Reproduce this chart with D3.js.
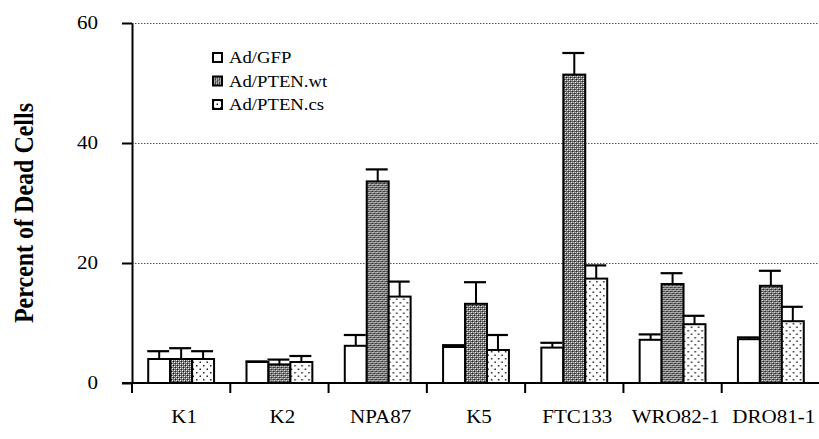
<!DOCTYPE html>
<html>
<head>
<meta charset="utf-8">
<script src="https://cdn.jsdelivr.net/npm/d3@7"></script>
<style>
  html, body { margin: 0; padding: 0; background: #fff; }
  svg { display: block; }
</style>
</head>
<body>
<svg id="chart" width="819" height="439"></svg>
<script>
// Cell lines and treatment groups
const categories = ["K1", "K2", "NPA87", "K5", "FTC133", "WRO82-1", "DRO81-1"];
const seriesNames = ["Ad/GFP", "Ad/PTEN.wt", "Ad/PTEN.cs"];

// Mean percent of dead cells and upper error (SD) per series
const gfpValues = [4.0, 3.5, 6.2, 6.0, 5.9, 7.2, 7.3];
const gfpErrors = [1.3, 0.1, 1.8, 0.3, 0.8, 0.9, 0.3];
const wtValues  = [4.0, 3.1, 33.6, 13.2, 51.4, 16.5, 16.2];
const wtErrors  = [1.8, 0.8, 2.0, 3.6, 3.6, 1.8, 2.5];
const csValues  = [4.0, 3.5, 14.4, 5.5, 17.4, 9.8, 10.3];
const csErrors  = [1.3, 1.0, 2.5, 2.5, 2.2, 1.4, 2.4];

const yTicks = [0, 20, 40, 60];
const yLabel = "Percent of Dead Cells";

const valueSets = [gfpValues, wtValues, csValues];
const errorSets = [gfpErrors, wtErrors, csErrors];
const fills = ["#fff", "url(#hatch)", "url(#dots)"];

const SERIF = '"Liberation Serif", "Times New Roman", Times, serif';
const STRETCH = 1.17; // wide typesetting of the labels

const svg = d3.select("#chart");
const W = 819, H = 439;
const plotLeft = 132, plotRight = 820, plotTop = 23, plotBottom = 383;

// Patterns for the bar fills
const defs = svg.append("defs");
const hatch = defs.append("pattern").attr("id", "hatch")
  .attr("patternUnits", "userSpaceOnUse").attr("width", 4).attr("height", 4);
hatch.append("rect").attr("width", 4).attr("height", 4).attr("fill", "#6c6c6c");
[[0, 0, "#fff"], [2, 2, "#fff"], [2, 0, "#c8c8c8"], [0, 2, "#c8c8c8"], [1, 1, "#151515"], [3, 3, "#151515"]]
  .forEach(([px, py, c]) => hatch.append("rect").attr("x", px).attr("y", py)
    .attr("width", 1).attr("height", 1).attr("fill", c));

const dots = defs.append("pattern").attr("id", "dots")
  .attr("patternUnits", "userSpaceOnUse").attr("width", 7).attr("height", 7);
dots.append("rect").attr("width", 7).attr("height", 7).attr("fill", "#fff");
dots.append("rect").attr("x", 1).attr("y", 1).attr("width", 1.5).attr("height", 1.5).attr("fill", "#222");
dots.append("rect").attr("x", 4.5).attr("y", 4.5).attr("width", 1.5).attr("height", 1.5).attr("fill", "#222");

// Scales
const x = d3.scaleBand().domain(categories).range([plotLeft, plotRight]).padding(0);
const inner = d3.scaleBand().domain(seriesNames)
  .range([x.bandwidth() * 0.165, x.bandwidth() * 0.835]).padding(0);
const y = d3.scaleLinear().domain([0, 60]).range([plotBottom, plotTop]);

// Dotted gridlines
svg.append("g").selectAll("line").data(yTicks.filter(t => t > 0)).join("line")
  .attr("x1", plotLeft).attr("x2", W)
  .attr("y1", d => y(d) + 0.5).attr("y2", d => y(d) + 0.5)
  .attr("stroke", "#555").attr("stroke-width", 1)
  .attr("stroke-dasharray", "1.5,1.5");

// Bars with upper error bars
const groups = svg.append("g").selectAll("g").data(categories).join("g")
  .attr("transform", c => `translate(${x(c)},0)`);

seriesNames.forEach((s, si) => {
  const bw = inner.bandwidth();
  groups.append("line")
    .attr("x1", inner(s) + bw / 2).attr("x2", inner(s) + bw / 2)
    .attr("y1", (c, i) => y(valueSets[si][i]))
    .attr("y2", (c, i) => y(valueSets[si][i] + errorSets[si][i]))
    .attr("stroke", "#000").attr("stroke-width", 2);
  groups.append("line")
    .attr("x1", inner(s) - 1).attr("x2", inner(s) + bw - 1)
    .attr("y1", (c, i) => y(valueSets[si][i] + errorSets[si][i]))
    .attr("y2", (c, i) => y(valueSets[si][i] + errorSets[si][i]))
    .attr("stroke", "#000").attr("stroke-width", 2.2);
  groups.append("rect")
    .attr("x", inner(s)).attr("width", bw)
    .attr("y", (c, i) => y(valueSets[si][i]))
    .attr("height", (c, i) => y(0) - y(valueSets[si][i]))
    .attr("fill", fills[si]).attr("stroke", "#000").attr("stroke-width", 2);
});

// Y axis
const yAxis = d3.axisLeft(y).tickValues(yTicks).tickSize(10).tickSizeOuter(0).tickPadding(24);
const yg = svg.append("g").attr("transform", `translate(${plotLeft},0)`).call(yAxis);
yg.select(".domain").attr("stroke", "#000").attr("stroke-width", 2);
yg.selectAll(".tick line").attr("stroke", "#000").attr("stroke-width", 2);
yg.selectAll(".tick text")
  .attr("x", 0)
  .attr("transform", `translate(-34,0) scale(${STRETCH},1)`)
  .style("font-family", SERIF)
  .style("font-size", "18px").attr("fill", "#000");

// X axis: baseline, boundary ticks and centred category labels
svg.append("line").attr("x1", plotLeft - 10).attr("x2", W)
  .attr("y1", plotBottom).attr("y2", plotBottom)
  .attr("stroke", "#000").attr("stroke-width", 2);
svg.append("g").selectAll("line").data(categories).join("line")
  .attr("x1", c => x(c)).attr("x2", c => x(c))
  .attr("y1", plotBottom).attr("y2", plotBottom + 10)
  .attr("stroke", "#000").attr("stroke-width", 2);
svg.append("g").selectAll("text").data(categories).join("text")
  .attr("transform", c => `translate(${x(c) + x.bandwidth() / 2 + 3},423) scale(${STRETCH},1)`)
  .attr("text-anchor", "middle")
  .style("font-family", SERIF)
  .style("font-size", "18px").attr("fill", "#000")
  .text(c => c);

// Y axis title
svg.append("text")
  .attr("transform", `translate(33,213) scale(${STRETCH},1) rotate(-90)`)
  .attr("text-anchor", "middle")
  .style("font-family", SERIF)
  .style("font-size", "24px").style("font-weight", "bold").attr("fill", "#000")
  .text(yLabel);

// Legend
const legend = svg.append("g").attr("transform", "translate(212,52)");
const rows = legend.selectAll("g").data(seriesNames).join("g")
  .attr("transform", (d, i) => `translate(0,${i * 23.5})`);
rows.append("rect").attr("x", 1).attr("y", 1).attr("width", 9).attr("height", 9)
  .attr("fill", (d, i) => fills[i]).attr("stroke", "#000").attr("stroke-width", 2);
rows.append("text")
  .attr("transform", `translate(17,11) scale(${STRETCH},1)`)
  .style("font-family", SERIF)
  .style("font-size", "16px").attr("fill", "#000")
  .text(d => d);
</script>
</body>
</html>
